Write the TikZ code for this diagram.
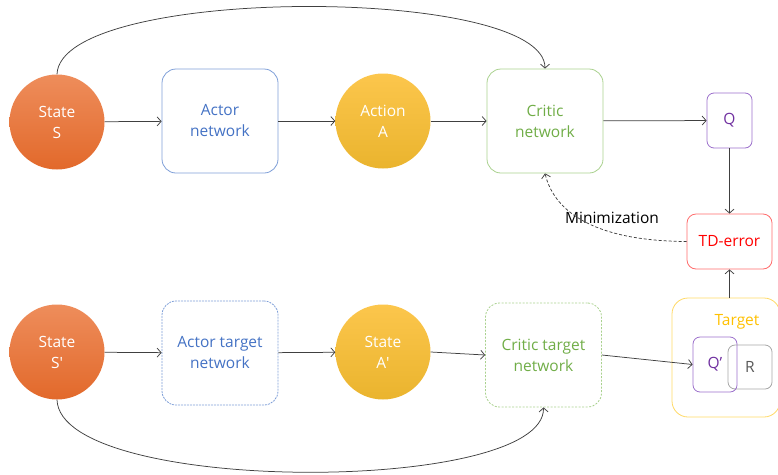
\documentclass[tikz,border=0pt]{standalone}
\usepackage{fontspec}
\setmainfont{Open Sans}
\usetikzlibrary{arrows.meta}
\definecolor{lineC}{HTML}{404040}
\definecolor{actorB}{HTML}{4472C4}
\definecolor{actorBd}{HTML}{7F9FD8}
\definecolor{criticG}{HTML}{70AD47}
\definecolor{criticGd}{HTML}{A9D18E}
\definecolor{qP}{HTML}{7030A0}
\definecolor{qPd}{HTML}{9B6FCB}
\definecolor{tdR}{HTML}{FF0000}
\definecolor{tdRd}{HTML}{FF6B6B}
\definecolor{tgtY}{HTML}{FFC000}
\definecolor{tgtYd}{HTML}{FFD966}
\definecolor{rG}{HTML}{595959}
\definecolor{rGd}{HTML}{A6A6A6}
\definecolor{orange1}{HTML}{EE8D5B}
\definecolor{orange2}{HTML}{E2692B}
\definecolor{gold1}{HTML}{FCC64C}
\definecolor{gold2}{HTML}{EAB42E}
\tikzset{
  every node/.style={font=\fontsize{15.5}{21}\selectfont, align=center, inner sep=0pt},
  statecirc/.style={circle, minimum size=95pt, text=white, shading=axis, top color=orange1, bottom color=orange2, draw=none},
  actcirc/.style={circle, minimum size=95pt, text=white, shading=axis, top color=gold1, bottom color=gold2, draw=none},
  netbox/.style={rectangle, rounded corners=14pt, minimum width=116pt, minimum height=104pt, line width=0.8pt},
  smallbox/.style={rectangle, rounded corners=7pt, line width=0.8pt},
  conn/.style={draw=lineC, line width=0.75pt, -{Straight Barb[length=4pt,width=9pt]}},
}
\begin{document}
\begin{tikzpicture}[x=1pt,y=-1pt]
\useasboundingbox (0,0) rectangle (778,474);
% nodes
\node[statecirc] (S) at (57,122) {State\\S};
\node[netbox, draw=actorBd, text=actorB] (actor) at (220,121) {Actor\\network};
\node[actcirc] (A) at (383,121) {Action\\A};
\node[netbox, draw=criticGd, text=criticG] (critic) at (545,121) {Critic\\network};
\node[smallbox, draw=qPd, text=qP, minimum width=45pt, minimum height=55pt] (Q) at (729.5,120.5) {Q};
\node[smallbox, rounded corners=9pt, draw=tdRd, text=tdR, minimum width=85pt, minimum height=55pt] (TD) at (729.5,241.5) {TD-error};
\node[text=black] (mini) at (612,218) {Minimization};

\node[statecirc] (S2) at (57,352) {State\\S\textquotesingle};
\node[netbox, draw=actorBd, text=actorB, dash pattern=on 2pt off 1pt] (actorT) at (220,353) {Actor target\\network};
\node[actcirc] (A2) at (383,352) {State\\A\textquotesingle};
\node[netbox, draw=criticGd, text=criticG, dash pattern=on 2pt off 1.5pt] (criticT) at (543.5,355) {Critic target\\network};
\node[rectangle, rounded corners=16pt, draw=tgtYd, line width=0.8pt, minimum width=108pt, minimum height=119pt] (target) at (726,357.5) {};
\node[text=tgtY] (tlabel) at (737,322) {Target};
\node[smallbox, draw=rGd, text=rG, minimum width=44pt, minimum height=44pt] (R) at (750,367) {R};
\node[smallbox, draw=qPd, text=qP, minimum width=44pt, minimum height=55pt] (Qp) at (715,364.5) {Q’};

% connectors
\draw[conn] (S) -- (actor);
\draw[conn] (actor) -- (A);
\draw[conn] (A) -- (critic);
\draw[conn] (critic) -- (Q);
\draw[conn] (Q) -- (TD);
\draw[conn] (target.north -| TD.south) -- (TD.south);
\draw[conn, dashed, dash pattern=on 3pt off 2pt] (TD.west) .. controls (600,241) and (555,215) .. (critic.south);
\draw[conn] (S.north) .. controls (60,-15) and (545,-15) .. (critic.north);

\draw[conn] (S2) -- (actorT);
\draw[conn] (actorT) -- (A2);
\draw[conn] (A2.east) -- (criticT.west);
\draw[conn] (criticT.east) -- (Qp.west);
\draw[conn] (S2.south) .. controls (60,495) and (545,495) .. (criticT.south);
\end{tikzpicture}
\end{document}
